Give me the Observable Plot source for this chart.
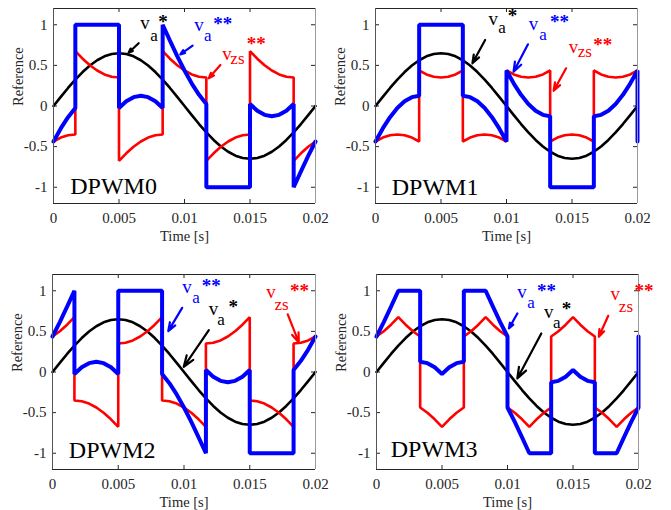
<!DOCTYPE html>
<html><head><meta charset="utf-8">
<script src="https://cdn.jsdelivr.net/npm/d3@7"></script>
<script src="https://cdn.jsdelivr.net/npm/@observablehq/plot@0.6"></script>
<style>
body{margin:0;background:#fff;}
#wrap{position:relative;width:671px;height:510px;overflow:hidden;background:#fff;}
#wrap > div{position:absolute;}
</style></head><body><div id="wrap"></div>
<script>
// axes
const xDomain = [0, 0.02];
const yDomain = [-1.2, 1.2];
const xTicks = [0, 0.005, 0.01, 0.015, 0.02];
const yTicks = [-1, -0.5, 0, 0.5, 1];

// reference va* (one period)
const tRef = [0, 0.000556, 0.001111, 0.001667, 0.002222, 0.002778, 0.003333, 0.003889, 0.004444, 0.005, 0.005556, 0.006111, 0.006667, 0.007222, 0.007778, 0.008333, 0.008889, 0.009444, 0.01, 0.010556, 0.011111, 0.011667, 0.012222, 0.012778, 0.013333, 0.013889, 0.014444, 0.015, 0.015556, 0.016111, 0.016667, 0.017222, 0.017778, 0.018333, 0.018889, 0.019444, 0.02];
const vaRef = [0, 0.113, 0.222, 0.325, 0.418, 0.498, 0.563, 0.611, 0.640, 0.650, 0.640, 0.611, 0.563, 0.498, 0.418, 0.325, 0.222, 0.113, 0, -0.113, -0.222, -0.325, -0.418, -0.498, -0.563, -0.611, -0.640, -0.650, -0.640, -0.611, -0.563, -0.498, -0.418, -0.325, -0.222, -0.113, 0];

// time samples with jumps (DPWM0, DPWM2)
const tA = [0, 0.000556, 0.001111, 0.001667, 0.001667, 0.002222, 0.002778, 0.003333, 0.003889, 0.004444, 0.005, 0.005, 0.005556, 0.006111, 0.006667, 0.007222, 0.007778, 0.008333, 0.008333, 0.008889, 0.009444, 0.01, 0.010556, 0.011111, 0.011667, 0.011667, 0.012222, 0.012778, 0.013333, 0.013889, 0.014444, 0.015, 0.015, 0.015556, 0.016111, 0.016667, 0.017222, 0.017778, 0.018333, 0.018333, 0.018889, 0.019444, 0.02];
// time samples with jumps (DPWM1, DPWM3)
const tB = [0, 0.000556, 0.001111, 0.001667, 0.002222, 0.002778, 0.003333, 0.003333, 0.003889, 0.004444, 0.005, 0.005556, 0.006111, 0.006667, 0.006667, 0.007222, 0.007778, 0.008333, 0.008889, 0.009444, 0.01, 0.01, 0.010556, 0.011111, 0.011667, 0.012222, 0.012778, 0.013333, 0.013333, 0.013889, 0.014444, 0.015, 0.015556, 0.016111, 0.016667, 0.016667, 0.017222, 0.017778, 0.018333, 0.018889, 0.019444, 0.02, 0.02];

// DPWM0
const vzs0 = [-0.437, -0.389, -0.360, -0.350, 0.675, 0.582, 0.502, 0.437, 0.389, 0.360, 0.350, -0.675, -0.582, -0.502, -0.437, -0.389, -0.360, -0.350, 0.675, 0.582, 0.502, 0.437, 0.389, 0.360, 0.350, -0.675, -0.582, -0.502, -0.437, -0.389, -0.360, -0.350, 0.675, 0.582, 0.502, 0.437, 0.389, 0.360, 0.350, -0.675, -0.582, -0.502, -0.437];
const vaa0 = [-0.437, -0.276, -0.138, -0.025, 1, 1, 1, 1, 1, 1, 1, -0.025, 0.058, 0.109, 0.126, 0.109, 0.058, -0.025, 1, 0.804, 0.615, 0.437, 0.276, 0.138, 0.025, -1, -1, -1, -1, -1, -1, -1, 0.025, -0.058, -0.109, -0.126, -0.109, -0.058, 0.025, -1, -0.804, -0.615, -0.437];
// DPWM1
const vzs1 = [-0.437, -0.389, -0.360, -0.350, -0.360, -0.389, -0.437, 0.437, 0.389, 0.360, 0.350, 0.360, 0.389, 0.437, -0.437, -0.389, -0.360, -0.350, -0.360, -0.389, -0.437, 0.437, 0.389, 0.360, 0.350, 0.360, 0.389, 0.437, -0.437, -0.389, -0.360, -0.350, -0.360, -0.389, -0.437, 0.437, 0.389, 0.360, 0.350, 0.360, 0.389, 0.437, -0.437];
const vaa1 = [-0.437, -0.276, -0.138, -0.025, 0.058, 0.109, 0.126, 1, 1, 1, 1, 1, 1, 1, 0.126, 0.109, 0.058, -0.025, -0.138, -0.276, -0.437, 0.437, 0.276, 0.138, 0.025, -0.058, -0.109, -0.126, -1, -1, -1, -1, -1, -1, -1, -0.126, -0.109, -0.058, 0.025, 0.138, 0.276, 0.437, -0.437];
// DPWM2
const vzs2 = [0.437, 0.502, 0.582, 0.675, -0.350, -0.360, -0.389, -0.437, -0.502, -0.582, -0.675, 0.350, 0.360, 0.389, 0.437, 0.502, 0.582, 0.675, -0.350, -0.360, -0.389, -0.437, -0.502, -0.582, -0.675, 0.350, 0.360, 0.389, 0.437, 0.502, 0.582, 0.675, -0.350, -0.360, -0.389, -0.437, -0.502, -0.582, -0.675, 0.350, 0.360, 0.389, 0.437];
const vaa2 = [0.437, 0.615, 0.804, 1, -0.025, 0.058, 0.109, 0.126, 0.109, 0.058, -0.025, 1, 1, 1, 1, 1, 1, 1, -0.025, -0.138, -0.276, -0.437, -0.615, -0.804, -1, 0.025, -0.058, -0.109, -0.126, -0.109, -0.058, 0.025, -1, -1, -1, -1, -1, -1, -1, 0.025, 0.138, 0.276, 0.437];
// DPWM3
const vzs3 = [0.437, 0.502, 0.582, 0.675, 0.582, 0.502, 0.437, -0.437, -0.502, -0.582, -0.675, -0.582, -0.502, -0.437, 0.437, 0.502, 0.582, 0.675, 0.582, 0.502, 0.437, -0.437, -0.502, -0.582, -0.675, -0.582, -0.502, -0.437, 0.437, 0.502, 0.582, 0.675, 0.582, 0.502, 0.437, -0.437, -0.502, -0.582, -0.675, -0.582, -0.502, -0.437, 0.437];
const vaa3 = [0.437, 0.615, 0.804, 1, 1, 1, 1, 0.126, 0.109, 0.058, -0.025, 0.058, 0.109, 0.126, 1, 1, 1, 1, 0.804, 0.615, 0.437, -0.437, -0.615, -0.804, -1, -1, -1, -1, -0.126, -0.109, -0.058, 0.025, -0.058, -0.109, -0.126, -1, -1, -1, -1, -0.804, -0.615, -0.437, 0.437];

// annotations: [series, text, part, t, value]
const notes0 = [
  ["ref","v","main",0.00663,0.942],["ref","a","sub",0.00739,0.806],["ref","*","sup",0.0080,0.966],
  ["mod","v","main",0.01075,0.917],["mod","a","sub",0.01148,0.794],["mod","**","sup",0.0122,0.933],
  ["zs","v","main",0.01289,0.566],["zs","zs","sub",0.0135,0.523],["zs","**","sup",0.01475,0.687]];
const arrows0 = [["ref",0.0065,0.772,0.00573,0.656],["mod",0.01062,0.742,0.00968,0.636],["zs",0.01274,0.505,0.01185,0.341]];
const notes1 = [
  ["ref","v","main",0.00863,0.997],["ref","a","sub",0.00937,0.895],["ref","*","sup",0.0101,1.036],
  ["mod","v","main",0.01169,0.935],["mod","a","sub",0.0125,0.812],["mod","**","sup",0.01332,0.954],
  ["zs","v","main",0.01475,0.649],["zs","zs","sub",0.01543,0.599],["zs","**","sup",0.01663,0.674]];
const arrows1 = [["ref",0.00837,0.812,0.0074,0.526],["mod",0.01164,0.759,0.01054,0.422],["zs",0.01455,0.464,0.0136,0.188]];
const notes2 = [
  ["mod","v","main",0.00986,0.967],["mod","a","sub",0.01062,0.844],["mod","**","sup",0.01135,0.986],
  ["ref","v","main",0.01189,0.700],["ref","a","sub",0.01252,0.577],["ref","*","sup",0.01338,0.727],
  ["zs","v","main",0.01625,0.906],["zs","zs","sub",0.01688,0.762],["zs","**","sup",0.01807,0.924]];
const arrows2 = [["mod",0.00986,0.790,0.0088,0.503],["ref",0.01189,0.516,0.00998,0.064],["zs",0.01789,0.709,0.01873,0.364]];
const notes3 = [
  ["mod","v","main",0.01075,0.906],["mod","a","sub",0.01151,0.783],["mod","**","sup",0.01225,0.924],
  ["ref","v","main",0.01278,0.660],["ref","a","sub",0.01347,0.544],["ref","*","sup",0.01415,0.698],
  ["zs","v","main",0.01787,0.885],["zs","zs","sub",0.0185,0.741],["zs","**","sup",0.01970,0.924]];
const arrows3 = [["mod",0.01075,0.721,0.01011,0.537],["ref",0.01258,0.475,0.01075,-0.079],["zs",0.01769,0.692,0.01697,0.433]];

const titles = ["DPWM0", "DPWM1", "DPWM2", "DPWM3"];
const titlePos = [[0.00128,-1.087],[0.00124,-1.095],[0.00124,-1.063],[0.00109,-1.041]];

const colors = {ref: "#000000", mod: "#0000ff", zs: "#ff0000"};
const axisColor = "#262626";
const serif = "'Liberation Serif', 'Times New Roman', serif";

function panel(idx, tJ, vzs, vaa, notes, arrows, box) {
  const {left, top, width, mL, mR, mT, mB} = box;
  const height = 255;
  const fh = height - mT - mB, fw = width - mL - mR;
  const blackData = tRef.map((t, i) => ({t, v: vaRef[i]}));
  const redData = tJ.map((t, i) => ({t, v: vzs[i]}));
  const blueData = tJ.map((t, i) => ({t, v: vaa[i]}));
  const N = notes.map(([s, text, part, t, v]) => ({s, text, part, t, v}));
  const A = arrows.map(([s, t1, v1, t2, v2]) => ({s, t1, v1, t2, v2}));
  const chart = Plot.plot({
    width, height, marginLeft: mL, marginRight: mR, marginTop: mT, marginBottom: mB,
    x: {domain: xDomain}, y: {domain: yDomain},
    style: {fontFamily: serif, fontSize: "15px", color: axisColor, background: "transparent", overflow: "visible"},
    marks: [
      Plot.axisX(xTicks, {tickSize: 0, tickPadding: 9, tickFormat: d => String(d), label: null, fontSize: 15}),
      Plot.axisY(yTicks, {tickSize: 0, tickPadding: 6, tickFormat: d => String(d), label: null, fontSize: 15}),
      Plot.tickX(xTicks, {x: d => d, insetTop: fh - 4, stroke: axisColor}),
      Plot.tickX(xTicks, {x: d => d, insetBottom: fh - 4, stroke: axisColor}),
      Plot.tickY(yTicks, {y: d => d, insetRight: fw - 4, stroke: axisColor}),
      Plot.tickY(yTicks, {y: d => d, insetLeft: fw - 4, stroke: axisColor}),
      Plot.line(blackData, {x: "t", y: "v", stroke: colors.ref, strokeWidth: 2.6}),
      Plot.line(redData, {x: "t", y: "v", stroke: colors.zs, strokeWidth: 2.6, strokeLinejoin: "miter"}),
      Plot.line(blueData, {x: "t", y: "v", stroke: colors.mod, strokeWidth: 4, strokeLinejoin: "miter"}),
      Plot.ruleY(yDomain, {stroke: axisColor}),
      Plot.ruleX([xDomain[0]], {stroke: "#555"}),
      Plot.ruleX([xDomain[1]], {stroke: "#999"}),
      Plot.arrow(A, {x1: "t1", y1: "v1", x2: "t2", y2: "v2", stroke: d => colors[d.s], strokeWidth: 2.2, headLength: 8, headAngle: 40}),
      Plot.text(N.filter(d => d.part === "main"), {x: "t", y: "v", text: "text", fill: d => colors[d.s], fontSize: 19, textAnchor: "start", lineAnchor: "bottom"}),
      Plot.text(N.filter(d => d.part === "sub"), {x: "t", y: "v", text: "text", fill: d => colors[d.s], fontSize: 17, textAnchor: "start", lineAnchor: "bottom"}),
      Plot.text(N.filter(d => d.part === "sup"), {x: "t", y: "v", text: "text", fill: d => colors[d.s], fontSize: 19, fontWeight: "bold", textAnchor: "start", lineAnchor: "bottom"}),
      Plot.text([titles[idx]], {x: titlePos[idx][0], y: titlePos[idx][1], text: d => d, fill: "black", fontSize: 24, textAnchor: "start", lineAnchor: "bottom"}),
      Plot.text(["Time [s]"], {text: d => d, frameAnchor: "bottom", dy: 37, lineAnchor: "bottom", fontSize: 14.5, fill: axisColor}),
      Plot.text(["Reference"], {text: d => d, frameAnchor: "left", dx: -35, rotate: -90, fontSize: 14.5, fill: axisColor})
    ]
  });
  const div = document.createElement("div");
  div.style.left = left + "px";
  div.style.top = top + "px";
  div.appendChild(chart);
  document.getElementById("wrap").appendChild(div);
}

panel(0, tA, vzs0, vaa0, notes0, arrows0, {left: 0, top: 0, width: 335, mL: 53, mR: 20, mT: 8, mB: 52});
panel(1, tB, vzs1, vaa1, notes1, arrows1, {left: 335, top: 0, width: 336, mL: 40, mR: 34, mT: 8, mB: 52});
panel(2, tA, vzs2, vaa2, notes2, arrows2, {left: 0, top: 255, width: 335, mL: 52, mR: 20, mT: 19, mB: 41});
panel(3, tB, vzs3, vaa3, notes3, arrows3, {left: 335, top: 255, width: 336, mL: 41, mR: 33, mT: 19, mB: 41});
</script>
</body></html>
